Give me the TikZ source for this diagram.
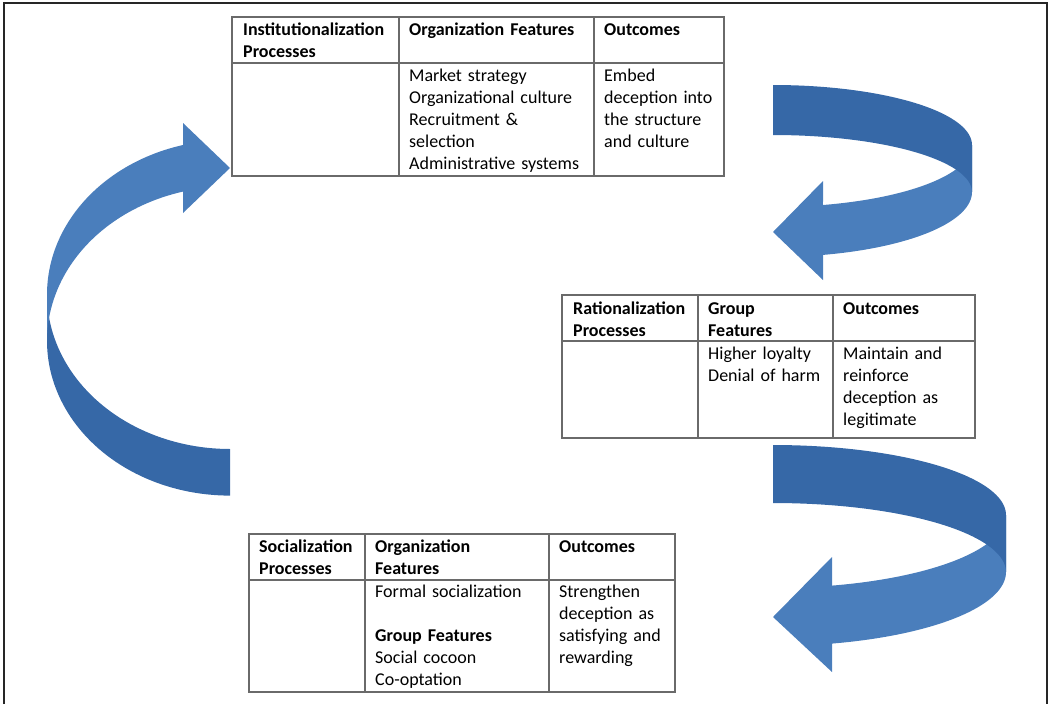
\documentclass[tikz,border=0pt]{standalone}
\usepackage{fontspec}
\setmainfont{Carlito}
\definecolor{arrlight}{HTML}{4A7EBC}
\definecolor{arrdark}{HTML}{3668A7}
\definecolor{tline}{HTML}{6A6A6A}
\begin{document}
\begin{tikzpicture}[x=1pt,y=-1pt,
  frame/.style={draw=black!85, line width=1.5pt},
  tbl/.style={draw=tline, line width=1.3pt, anchor=north west, inner sep=0pt, outer sep=0pt},
  tl/.style={draw=tline, line width=1.3pt},
  hd/.style={anchor=base west, inner sep=0pt, text width=200pt, align=left, font=\fontsize{18pt}{22pt}\selectfont\bfseries},
  bd/.style={anchor=base west, inner sep=0pt, text width=200pt, align=left, font=\fontsize{18pt}{22pt}\selectfont},
  lightpart/.style={fill=arrlight},
  darkpart/.style={fill=arrdark}]
\useasboundingbox (0,0) rectangle (1049,704);
% page frame (open at bottom)
\draw[frame] (4,704) -- (4,3) -- (1047,3) -- (1047,704);

% ---------- left curved arrow (up to top table) ----------
\fill[darkpart] plot[domain=90:180, samples=50, variable=\t] ({230+183*cos(\t)}, {294.4+154.6*sin(\t)})
  -- plot[domain=180:90, samples=50, variable=\t] ({230+183*cos(\t)}, {341+154.6*sin(\t)}) -- cycle;
\fill[lightpart] plot[domain=180:255.12, samples=50, variable=\t] ({230+183*cos(\t)}, {294.4+154.6*sin(\t)})
  -- (183,123) -- (230,168) -- (183,213)
  -- plot[domain=255.12:180, samples=50, variable=\t] ({230+183*cos(\t)}, {341+154.6*sin(\t)}) -- cycle;

% ---------- right top curved arrow ----------
\fill[lightpart] plot[domain=0:75.45, samples=50, variable=\t] ({773+199*cos(\t)}, {145+62*sin(\t)})
  -- (823,181) -- (773,232) -- (823,280)
  -- plot[domain=75.45:0, samples=50, variable=\t] ({773+199*cos(\t)}, {192+65*sin(\t)}) -- cycle;
\fill[darkpart] plot[domain=-90:0, samples=50, variable=\t] ({773+199*cos(\t)}, {145+60*sin(\t)})
  -- plot[domain=0:-90, samples=50, variable=\t] ({773+199*cos(\t)}, {192+57*sin(\t)}) -- cycle;

% ---------- right bottom curved arrow ----------
\fill[lightpart] plot[domain=0:75.33, samples=50, variable=\t] ({773+233*cos(\t)}, {515+73*sin(\t)})
  -- (832,557) -- (773,617) -- (832,672)
  -- plot[domain=75.33:0, samples=50, variable=\t] ({773+233*cos(\t)}, {572+74*sin(\t)}) -- cycle;
\fill[darkpart] plot[domain=-90:0, samples=50, variable=\t] ({773+233*cos(\t)}, {515+70*sin(\t)})
  -- plot[domain=0:-90, samples=50, variable=\t] ({773+233*cos(\t)}, {572+69*sin(\t)}) -- cycle;

% ---------- top table ----------
\node[tbl, minimum width=492pt, minimum height=159pt] (T1) at (232,17) {};
\draw[tl] (399,17) -- (399,176);
\draw[tl] (594,17) -- (594,176);
\draw[tl] (232,63) -- (724,63);
\node[hd] (t1h1) at (243,35.5) {Institutionalization\\Processes};
\node[hd] (t1h2) at (409,35.5) {Organization Features};
\node[hd] (t1h3) at (604,35.5) {Outcomes};
\node[bd] (t1b2) at (409,81.5) {Market strategy\\Organizational culture\\Recruitment \&\\selection\\Administrative systems};
\node[bd] (t1b3) at (604,81.5) {Embed\\deception into\\the structure\\and culture};

% ---------- middle table ----------
\node[tbl, minimum width=413pt, minimum height=143pt] (T2) at (562,295) {};
\draw[tl] (698,295) -- (698,438);
\draw[tl] (833,295) -- (833,438);
\draw[tl] (562,341) -- (975,341);
\node[hd] (t2h1) at (573,314.5) {Rationalization\\Processes};
\node[hd] (t2h2) at (708,314.5) {Group\\Features};
\node[hd] (t2h3) at (843,314.5) {Outcomes};
\node[bd] (t2b2) at (708,359.5) {Higher loyalty\\Denial of harm};
\node[bd] (t2b3) at (843,359.5) {Maintain and\\reinforce\\deception as\\legitimate};

% ---------- bottom table ----------
\node[tbl, minimum width=426pt, minimum height=158pt] (T3) at (249,534) {};
\draw[tl] (365,534) -- (365,692);
\draw[tl] (549,534) -- (549,692);
\draw[tl] (249,580) -- (675,580);
\node[hd] (t3h1) at (259,552.5) {Socialization\\Processes};
\node[hd] (t3h2) at (375,552.5) {Organization\\Features};
\node[hd] (t3h3) at (559,552.5) {Outcomes};
\node[bd] (t3b2) at (375,597.5) {Formal socialization\\[22pt]\textbf{Group Features}\\Social cocoon\\Co-optation};
\node[bd] (t3b3) at (559,597.5) {Strengthen\\deception as\\satisfying and\\rewarding};
\end{tikzpicture}
\end{document}
